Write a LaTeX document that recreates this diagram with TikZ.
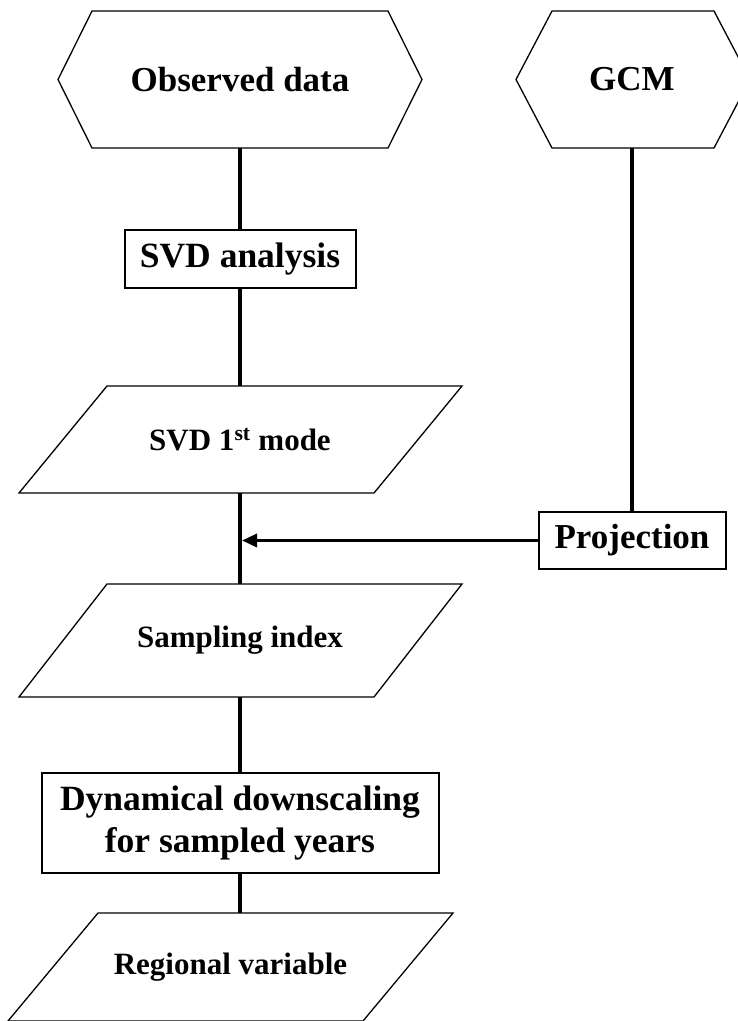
\documentclass[tikz,border=0pt]{standalone}
\usepackage{fontspec}
\setmainfont{Liberation Serif}
\usetikzlibrary{arrows.meta}
\begin{document}
\begin{tikzpicture}[x=1pt,y=-1pt,
  txt/.style={inner sep=0pt,outer sep=0pt,align=center,font=\bfseries},
  boxnode/.style={txt,draw,line width=2pt},
  conn/.style={line width=3.5pt},
  thin/.style={line width=1.3pt,line join=miter}]
\useasboundingbox (0,0) rectangle (738,1021);
\clip (0,0) rectangle (738,1021);
% hexagons
\node[txt,minimum width=364pt,minimum height=137pt,font=\bfseries\fontsize{35}{40}\selectfont] (obs) at (240,79.5) {Observed data};
\draw[thin] (58,79.5) -- (92,11) -- (388,11) -- (422,79.5) -- (388,148) -- (92,148) -- cycle;
\node[txt,minimum width=160pt,minimum height=137pt,font=\bfseries\fontsize{35}{40}\selectfont] (gcm) at (632,79.5) {GCM};
\draw[thin] (516,79.5) -- (552,11) -- (714,11) -- (750,79.5) -- (714,148) -- (552,148) -- cycle;
% SVD analysis
\node[boxnode,minimum width=231pt,minimum height=58pt,font=\bfseries\fontsize{35.5}{40}\selectfont] (svd) at (240,259) {SVD analysis};
% SVD 1st mode
\node[txt,minimum width=267pt,minimum height=107pt,font=\bfseries\fontsize{31}{36}\selectfont] (mode) at (240,439.5) {SVD 1\textsuperscript{st} mode};
\draw[thin] (107,386) -- (462,386) -- (374,493) -- (19,493) -- cycle;
% Projection
\node[boxnode,minimum width=187pt,minimum height=57pt,font=\bfseries\fontsize{35}{40}\selectfont] (proj) at (632,540.5) {Projection};
% Sampling index
\node[txt,minimum width=267pt,minimum height=113pt,font=\bfseries\fontsize{31}{36}\selectfont] (samp) at (240,640.5) {Sampling index};
\draw[thin] (107,584) -- (462,584) -- (374,697) -- (19,697) -- cycle;
% Dynamical downscaling
\node[boxnode,minimum width=397pt,minimum height=100pt,font=\bfseries\fontsize{35.5}{42}\selectfont] (dyn) at (240,823) {Dynamical downscaling\\for sampled years};
% Regional variable
\node[txt,minimum width=265pt,minimum height=108pt,font=\bfseries\fontsize{31}{36}\selectfont] (reg) at (230.5,967) {Regional variable};
\draw[thin] (98,913) -- (453,913) -- (363,1021) -- (8,1021) -- cycle;
% connectors
\coordinate (regtop) at (240,913);
\coordinate (join) at (240,540.5);
\draw[conn] (obs.south) -- (svd.north);
\draw[conn] (svd.south) -- (mode.north);
\draw[conn] (mode.south) -- (samp.north);
\draw[conn] (samp.south) -- (dyn.north);
\draw[conn] (dyn.south) -- (regtop);
\draw[conn] (gcm.south) -- (proj.north);
\draw[conn,-{Stealth[length=15pt,width=13pt,inset=0pt]}] (proj.west) -- ([xshift=2pt]join);
\end{tikzpicture}
\end{document}
